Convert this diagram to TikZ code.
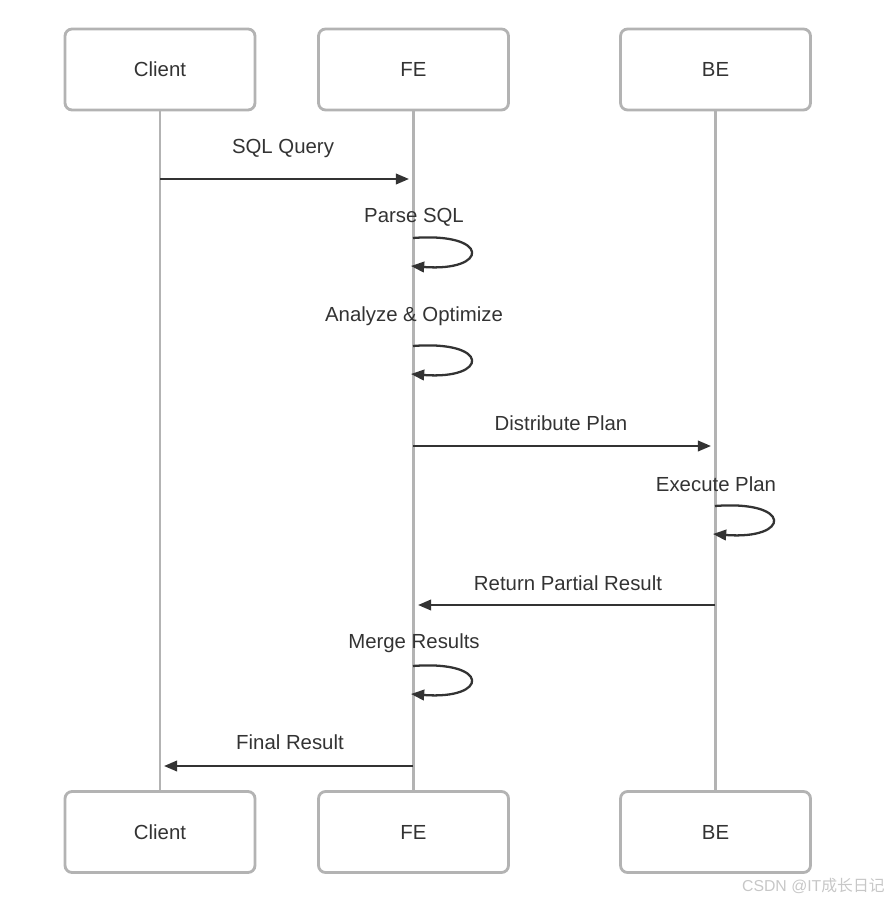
\documentclass[tikz,border=0pt]{standalone}
\usepackage{fontspec}
\setmainfont{Liberation Sans}
\newfontfamily\cjk{Noto Sans CJK SC}
\usetikzlibrary{arrows.meta}

\definecolor{lifegray}{HTML}{B3B3B3}
\definecolor{ink}{HTML}{333333}
\tikzset{
  actor/.style={draw=lifegray,line width=1.6pt,rounded corners=4pt,fill=white,minimum width=3.8cm,minimum height=1.62cm,font=\fontsize{11.6}{13}\selectfont,text=ink},
  lifeline/.style={draw=lifegray,line width=1.6pt},
  msg/.style={draw=ink,line width=1.3pt,-{Triangle[length=7.5pt,width=6pt]}},
  lbl/.style={font=\fontsize{11.6}{13}\selectfont,text=ink,inner sep=1pt}
}

\begin{document}
\begin{tikzpicture}[x=0.02cm,y=-0.02cm]
\useasboundingbox (0,0) rectangle (888,902);
% actors, top and bottom
\node[actor] (client_t) at (160,69.5) {Client};
\node[actor] (fe_t) at (413.5,69.5) {FE};
\node[actor] (be_t) at (715.5,69.5) {BE};
\node[actor] (client_b) at (160,832) {Client};
\node[actor] (fe_b) at (413.5,832) {FE};
\node[actor] (be_b) at (715.5,832) {BE};
\draw[lifeline] (client_t.south)--(client_b.north);
\draw[lifeline] (fe_t.south)--(fe_b.north);
\draw[lifeline] (be_t.south)--(be_b.north);
% message points
\coordinate (c1) at (160,179); \coordinate (f1) at (409,179);
\coordinate (f2a) at (413,238); \coordinate (f2b) at (411,266);
\coordinate (f3a) at (413,346); \coordinate (f3b) at (411,374);
\coordinate (f4) at (413,446); \coordinate (b4) at (711,446);
\coordinate (b5a) at (715,506); \coordinate (b5b) at (713,534);
\coordinate (b6) at (715,605); \coordinate (f6) at (418,605);
\coordinate (f7a) at (413,666); \coordinate (f7b) at (411,694);
\coordinate (f8) at (413,766); \coordinate (c8) at (164,766);
% messages
\node[lbl] (l1) at (283,149) {SQL Query};
\draw[msg] (c1)--(f1);
\node[lbl] (l2) at (414,217) {Parse SQL};
\draw[msg] (f2a) .. controls +(78,-6) and +(78,6) .. (f2b);
\node[lbl] (l3) at (414,316) {Analyze \& Optimize};
\draw[msg] (f3a) .. controls +(78,-6) and +(78,6) .. (f3b);
\node[lbl] (l4) at (561,423) {Distribute Plan};
\draw[msg] (f4)--(b4);
\node[lbl] (l5) at (716,484) {Execute Plan};
\draw[msg] (b5a) .. controls +(78,-6) and +(78,6) .. (b5b);
\node[lbl] (l6) at (568,583) {Return Partial Result};
\draw[msg] (b6)--(f6);
\node[lbl] (l7) at (414,643) {Merge Results};
\draw[msg] (f7a) .. controls +(78,-6) and +(78,6) .. (f7b);
\node[lbl] (l8) at (290,742) {Final Result};
\draw[msg] (f8)--(c8);
% watermark
\node[text=black!22,font=\fontsize{9}{10}\selectfont,anchor=east,inner sep=0pt] (mark) at (885,886) {CSDN @IT{\cjk 成长日记}};
\end{tikzpicture}
\end{document}
